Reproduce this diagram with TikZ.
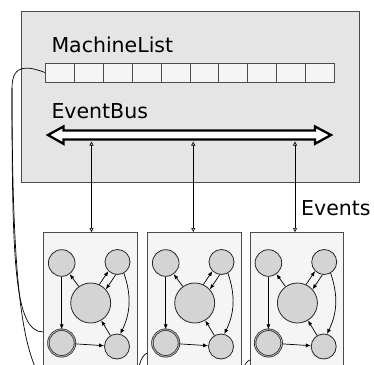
\documentclass[tikz,border=0pt]{standalone}
\usepackage{fontspec}
\setmainfont{DejaVu Sans}
\usetikzlibrary{arrows.meta,calc}
\definecolor{bgbox}{gray}{0.9}
\definecolor{mfill}{gray}{0.96}
\definecolor{cfill}{gray}{0.83}
\definecolor{edgec}{gray}{0.3}
\begin{document}
\begin{tikzpicture}[x=1pt,y=-1pt,
  lbl/.style={font=\fontsize{20.5}{24}\selectfont, anchor=base west, inner sep=0},
  cell/.style={draw=edgec, fill=mfill, minimum width=28.9pt, minimum height=19pt, inner sep=0, line width=0.8pt, anchor=west},
  mbox/.style={draw=edgec, fill=mfill, line width=1pt, minimum width=93.4pt, minimum height=150pt, inner sep=0, anchor=north west},
  st/.style={circle, draw=black!85, fill=cfill, inner sep=0, line width=0.8pt},
  tr/.style={-{Latex[length=5pt,width=4pt]}, line width=0.7pt},
  ev/.style={{Triangle[open,length=4pt,width=4pt]}-{Triangle[open,length=4pt,width=4pt]}, line width=0.6pt},
  link/.style={line width=0.7pt}
]
\useasboundingbox (0,0) rectangle (374,364);
\clip (0,0) rectangle (374,364);

% main container
\node[draw=edgec, fill=bgbox, line width=1.2pt, minimum width=338pt, minimum height=171pt, inner sep=0, anchor=north west] (main) at (21,11) {};

% machine list cells
\foreach \i in {0,...,9} \node[cell] (c\i) at ({45+28.9*\i},72.5) {};

\node[lbl] (ml) at (51.3,52) {MachineList};
\node[lbl] (eb) at (51.3,118) {EventBus};

% event bus double arrow
\draw[line width=2.3pt, fill=white, line join=miter]
  (48,135) -- (63.5,126.5) -- (63.5,130.5) -- (315,130.5) -- (315,126.5) -- (331,135)
  -- (315,143.8) -- (315,139.5) -- (63.5,139.5) -- (63.5,143.8) -- cycle;

% machines
\foreach \L/\n in {43.3/1,147.3/2,250/3} {
  \node[mbox] (m\n) at (\L,232) {};
  \node[st, minimum size=26.6pt] (tl\n) at ({\L+18.4},263) {};
  \node[st, minimum size=25pt] (tr\n) at ({\L+74.2},262) {};
  \node[st, minimum size=40pt] (big\n) at ({\L+47.4},303) {};
  \node[st, double=gray!60, double distance=0.9pt, line width=0.7pt, minimum size=26.6pt] (bl\n) at ({\L+18.4},343) {};
  \node[st, minimum size=25pt] (br\n) at ({\L+73.7},346.5) {};
  \draw[tr] (tl\n) -- (bl\n);
  \draw[tr] (bl\n) -- (br\n);
  \draw[tr] (br\n) -- (big\n);
  \draw[tr] (big\n) -- (tl\n);
  \draw[tr] (big\n.65) -- (tr\n.225);
  \draw[tr] (tr\n.262) -- (big\n.42);
  \draw[tr] (tr\n.300) to[bend left=22] (br\n.75);
}

% event connections
\coordinate (b1) at (91.5,141.5);
\coordinate (b2) at (193.3,141.5);
\coordinate (b3) at (295,141.5);
\draw[ev] (b1) -- (b1 |- m1.north);
\draw[ev] (b2) -- (b2 |- m2.north);
\draw[ev] (b3) -- (b3 |- m3.north);
\node[lbl] (evl) at (301,215) {Events};

% machine list links
\coordinate (la) at (12,88);
\coordinate (lb) at (45,385);
\draw[link] (c0.west) .. controls (30,67) and (12,62) .. (la)
  .. controls (12,260) and (14,332) .. ($(m1.north west)+(0,100)$);
\draw[link] (la) .. controls (12,300) and (24,355) .. (lb);
\draw[link] (lb) .. controls (60,400) and (125,395) .. (135,380)
  .. controls (139,372) and (139,356) .. ($(m2.north west)+(0,121)$);
\draw[link] (lb) .. controls (70,405) and (225,400) .. (236,385)
  .. controls (243,375) and (243,362) .. ($(m3.north west)+(0,128)$);
\end{tikzpicture}
\end{document}
